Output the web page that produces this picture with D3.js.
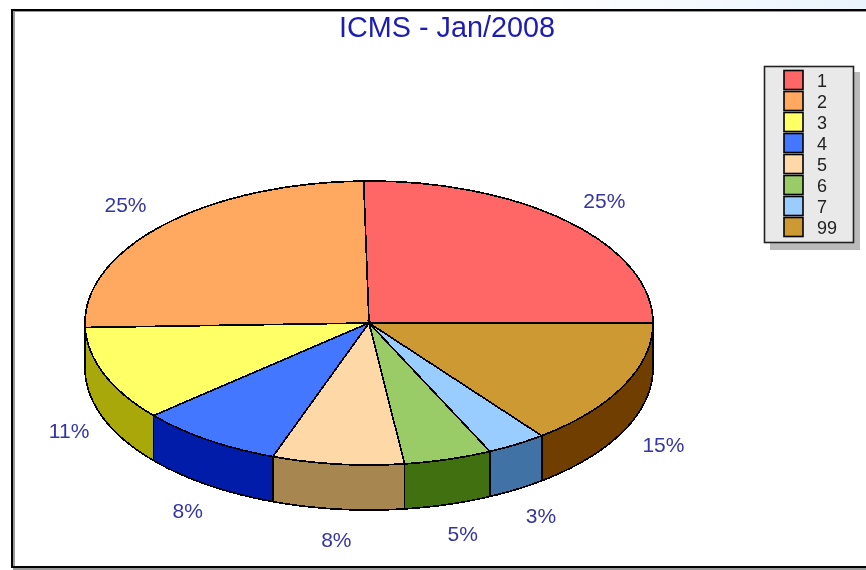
<!DOCTYPE html>
<html lang="en">
<head>
<meta charset="UTF-8">
<title>ICMS - Jan/2008</title>
<script src="https://cdn.jsdelivr.net/npm/d3@7"></script>
<style>
    html, body { margin: 0; padding: 0; background: #fff; }
    svg { display: block; filter: blur(0.45px); }
    text { font-family: "Liberation Sans", Arial, sans-serif; }
</style>
</head>
<body>
<script>
    // dados
    var categories = ["1", "2", "3", "4", "5", "6", "7", "99"]
    var shares = [25.3, 25.2, 10.8, 8.2, 7.5, 5.0, 3.4, 14.6]
    var shareLabels = ["25%", "25%", "11%", "8%", "8%", "5%", "3%", "15%"]
    var topColors = ["#ff6666", "#ffa860", "#ffff66", "#4477ff", "#ffd8a8", "#99cc66", "#99ccff", "#cc9933"]
    var sideColors = ["#a84040", "#a87040", "#a8a80a", "#001ca8", "#a8864f", "#407010", "#4072a6", "#703f00"]

    var width = 866
    var height = 570
    var cx = 369, cy = 323
    var rx = 284, ry = 142, depth = 45

    var svg = d3.select("body").append("svg")
        .attr("width", width)
        .attr("height", height)

    // faixa clara no canto superior
    var grad = svg.append("defs").append("linearGradient").attr("id", "strip")
    grad.append("stop").attr("offset", "0.6").attr("stop-color", "#ffffff")
    grad.append("stop").attr("offset", "1").attr("stop-color", "#eaf4fd")
    svg.append("rect").attr("width", width).attr("height", 9).attr("fill", "url(#strip)")

    // moldura
    svg.append("path").attr("d", "M14,11H866M14,11V569H866")
        .attr("fill", "none").attr("stroke", "#999").attr("stroke-width", 2)
    svg.append("path").attr("d", "M866,10H12V567H866")
        .attr("fill", "none").attr("stroke", "#000").attr("stroke-width", 2)

    svg.append("text")
        .attr("x", 447).attr("y", 37)
        .attr("text-anchor", "middle")
        .attr("font-size", 28.8)
        .attr("fill", "#1c1cb4")
        .text("ICMS - Jan/2008")

    // fatias no sentido anti-horário a partir do leste
    var pie = d3.pie().sort(null)
        .startAngle(Math.PI / 2)
        .endAngle(Math.PI / 2 - 2 * Math.PI)
    var slices = pie(shares)

    var arc = d3.arc().innerRadius(0).outerRadius(rx)

    // ângulo d3 (0 = norte) para ponto na elipse
    function px(a, r) { return cx + (r || rx) * Math.sin(a) }
    function py(a, r) { return cy - (r || ry) * Math.cos(a) }

    var pie3d = svg.append("g").attr("shape-rendering", "crispEdges")

    // parede lateral: só a metade da frente
    slices.forEach(function(s, i) {
        var hi = Math.min(s.startAngle, -Math.PI / 2)
        var lo = Math.max(s.endAngle, -3 * Math.PI / 2)
        if (hi <= lo) return
        var steps = d3.range(lo, hi, 0.01).concat([hi])
        var top = steps.map(function(a) { return [px(a), py(a)] })
        var bottom = steps.slice().reverse().map(function(a) { return [px(a), py(a) + depth] })
        pie3d.append("path")
            .attr("d", d3.line()(top.concat(bottom)) + "Z")
            .attr("fill", sideColors[i])
            .attr("stroke", "#000")
            .attr("stroke-width", 1.7)
            .attr("stroke-linejoin", "round")
    })

    // face de cima
    pie3d.selectAll("path.top")
        .data(slices)
        .enter()
        .append("path")
        .attr("class", "top")
        .attr("transform", "translate(" + cx + "," + cy + ") scale(1," + (ry / rx) + ")")
        .attr("d", arc)
        .attr("fill", function(d, i) { return topColors[i] })
        .attr("stroke", "#000")
        .attr("stroke-width", 1.7)
        .style("vector-effect", "non-scaling-stroke")

    // rótulos de porcentagem
    svg.selectAll("text.pct")
        .data(slices)
        .enter()
        .append("text")
        .attr("class", "pct")
        .attr("x", function(d) {
            var a = (d.startAngle + d.endAngle) / 2
            return Math.cos(a) < 0 ? px(a, 325) + 3 : px(a, 336)
        })
        .attr("y", function(d) {
            var a = (d.startAngle + d.endAngle) / 2
            return py(a, 172) + (Math.cos(a) < 0 ? depth + 8 : 7.5)
        })
        .attr("text-anchor", "middle")
        .attr("font-size", 21)
        .attr("fill", "#3535a5")
        .text(function(d, i) { return shareLabels[i] })

    // legenda
    var legendY = d3.scalePoint().domain(categories).range([80, 227])
    var legend = svg.append("g")
    legend.append("rect").attr("x", 770).attr("y", 72).attr("width", 90).attr("height", 178).attr("fill", "#bbbbbb")
    legend.append("rect").attr("x", 764.5).attr("y", 66.5).attr("width", 89).attr("height", 176)
        .attr("fill", "#e9e9e9").attr("stroke", "#222").attr("stroke-width", 1.6)

    var rows = legend.selectAll("g.row")
        .data(categories)
        .enter()
        .append("g")
        .attr("class", "row")
        .attr("transform", function(d) { return "translate(0," + legendY(d) + ")" })
    rows.append("rect")
        .attr("x", 784).attr("y", -9.5).attr("width", 19).attr("height", 19)
        .attr("fill", function(d, i) { return topColors[i] })
        .attr("stroke", "#000").attr("stroke-width", 1.6)
    rows.append("text")
        .attr("x", 817).attr("y", 6.5)
        .attr("font-size", 18)
        .attr("fill", "#222")
        .text(function(d) { return d })
</script>
</body>
</html>
